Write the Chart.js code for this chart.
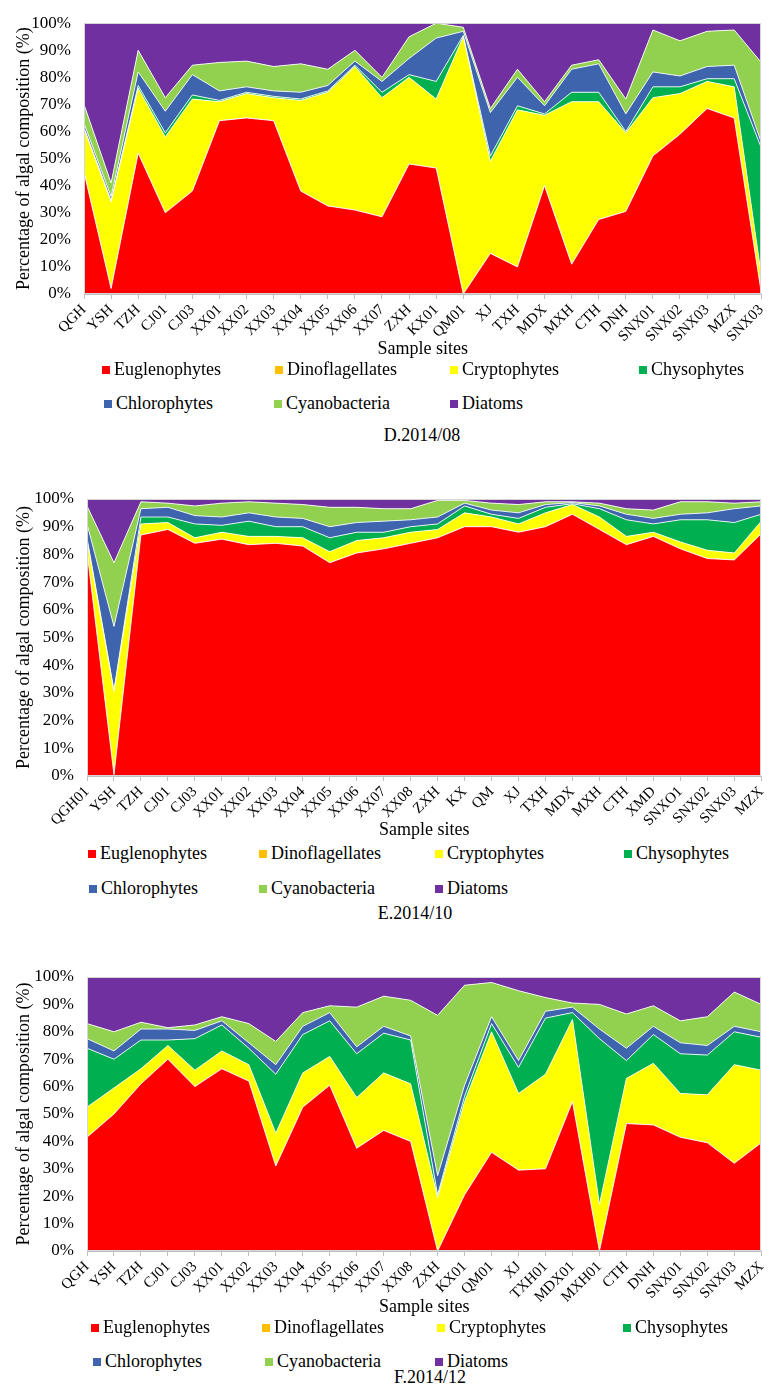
<!DOCTYPE html>
<html><head><meta charset="utf-8">
<script src="https://cdn.jsdelivr.net/npm/chart.js@4"></script>
<style>
body{margin:0;background:#fff;width:776px;height:1391px;position:relative;overflow:hidden;font-family:"Liberation Serif","Times New Roman",serif;color:#000}
canvas{position:absolute;left:0}
.lg{position:absolute;font-size:18px;line-height:20px;white-space:nowrap;transform:translateY(-50%)}
.lg i{display:inline-block;width:8px;height:8px;margin-right:4px;vertical-align:middle;position:relative;top:-1px}
.ttl{position:absolute;font-size:18px;transform:translate(-50%,-50%);white-space:nowrap}
</style></head><body>
<canvas id="cD"></canvas>
<canvas id="cE"></canvas>
<canvas id="cF"></canvas>
<script>
const seriesNames = ['Euglenophytes','Dinoflagellates','Cryptophytes','Chysophytes','Chlorophytes','Cyanobacteria','Diatoms'];
const seriesColors = ['#FF0000','#FFC000','#FFFF00','#00B050','#3D64AD','#92D050','#7030A0'];
const yTickLabels = ['0%','10%','20%','30%','40%','50%','60%','70%','80%','90%','100%'];

// ---- D.2014/08 ----
const catsD = ['QGH','YSH','TZH','CJ01','CJ03','XX01','XX02','XX03','XX04','XX05','XX06','XX07','ZXH','KX01','QM01','XJ','TXH','MDX','MXH','CTH','DNH','SNX01','SNX02','SNX03','MZX','SNX03'];
const D_euglenophytes  = [45,2,52,30,38,64,65,64,38,32.5,31,28.5,48,46.5,0,15,10,40,11,27.5,30.5,51,59,68.5,65,0.5];
const D_dinoflagellates= [0,0,0,0,0,0,0,0,0,0,0,0,0,0,0,0,0,0,0,0,0,0,0,0,0,0];
const D_cryptophytes   = [16,32,24,28,34,7,9,8.5,33.5,42,53,44,32,25.5,95,34,58,26,60,43.5,29,21.5,15,10,11.5,6.5];
const D_chysophytes    = [0.5,0.5,1,1.5,1.5,0.5,0.5,0.5,0.5,0.5,0.5,2,1,6.5,0.5,2,1.5,0.5,3.5,3.5,0.5,4,2.5,1,3,47];
const D_chlorophytes   = [1.5,1.5,5,8,7.5,3.5,2,2,2.5,2,1.5,4,6,16,1.5,16,10.5,3,8.5,10.5,6.5,5.5,4,4.5,5,2];
const D_cyanobacteria  = [7,5,8,5,3.5,10.5,9.5,9,10.5,6,4,1.5,8,5.5,1.5,1.5,3,1.5,1.5,1.5,5.5,15.5,13,13,13,29.5];
const D_diatoms        = [30,59,10,27.5,15.5,14.5,14,16,15,17,10,20,5,0,1.5,31.5,17,29,15.5,13.5,28,2.5,6.5,3,2.5,14.5];

// ---- E.2014/10 ----
const catsE = ['QGH01','YSH','TZH','CJ01','CJ03','XX01','XX02','XX03','XX04','XX05','XX06','XX07','XX08','ZXH','KX','QM','XJ','TXH','MDX','MXH','CTH','XMD','SNXO1','SNX02','SNX03','MZX'];
const E_euglenophytes  = [81,0.5,87,89,84,85.5,83.5,84,83,77,80.5,82,84,86,90,90,88,90,94.5,89,83.5,86.5,82,78.5,78,87.5];
const E_dinoflagellates= [0,0,0,0,0,0,0,0,0,0,0,0,0,0,0,0,0,0,0,0,0,0,0,0,0,0];
const E_cryptophytes   = [4,30,4,2.5,2,2.5,3,2.5,3,4,4.5,4,4,3,5,3.5,3,5,3.5,4.5,3,1.5,2.5,3,2.5,4.5];
const E_chysophytes    = [1,0.5,2.5,2,5,2.5,5.5,3.5,4,5,3,2,2,2,2.5,1,2,2,0.3,3,6,3,8,11,11,2.5];
const E_chlorophytes   = [5,23,3,3.5,3,3,3,3.5,3,4,3.5,4,2.5,2.5,1,1.5,2,1,0.4,1,2,2,2,2.5,5,3];
const E_cyanobacteria  = [6.5,23,2.5,1.5,3.5,5,4,5,5,7,5.5,4.5,4,6,1,2.5,3,1,0.3,1,2,3,4.5,4,2,1.5];
const E_diatoms        = [2.5,23,1,1.5,2.5,1.5,1,1.5,2,3,3,3.5,3.5,0.5,0.5,1.5,2,1,1,1.5,3.5,4,1,1,1.5,1];

// ---- F.2014/12 ----
const catsF = ['QGH','YSH','TZH','CJ01','CJ03','XX01','XX02','XX03','XX04','XX05','XX06','XX07','XX08','ZXH','KX01','QM01','XJ','TXH01','MDX01','MXH01','CTH','DNH','SNX01','SNX02','SNX03','MZX'];
const F_euglenophytes  = [41.5,50,61,70,60,66.5,62,31,52.5,60.5,37.5,44,40,0,20.5,36,29.5,30,54.5,0,46.5,46,41.5,39.5,32,39.5];
const F_dinoflagellates= [0,0,0,0,0,0,0,0,0,0,0,0,0,0,0,0,0,0,0,0,0,0,0,0,0,0];
const F_cryptophytes   = [11,9.5,5.5,5,6,6.5,6,12,12.5,10.5,18.5,21,21,19.5,34,44,28,34.5,30,17,16.5,22.5,16,17.5,36,26.5];
const F_chysophytes    = [21.5,10.5,10.5,2,11.5,9.5,6,21.5,14,13,16,14.5,16,1,2,3,9.5,20.5,2.5,60.5,6.5,10.5,14.5,14.5,12,12];
const F_chlorophytes   = [3.5,3,4,4,3,1.5,2,3.5,3,3,2.5,2.5,1.5,7,4,2.5,2.5,2.5,2,3.5,4.5,3,4,3.5,2,2];
const F_cyanobacteria  = [5.5,7,2.5,0.5,2,1.5,7,8.5,5,2.5,14.5,11,13,58.5,36.5,12.5,25.5,5,1.5,9,12.5,7.5,8,10.5,12.5,10];
const F_diatoms        = [17,20,16.5,18.5,17.5,14.5,17,23.5,13,10.5,11,7,8.5,14,3,2,5,7.5,9.5,10,13.5,10.5,16,14.5,5.5,10];

const FONT = '"Liberation Serif","Times New Roman",serif';

const borderPlugin = {
  id: 'plotBorder',
  afterDatasetsDraw(chart) {
    const {ctx, chartArea: a} = chart;
    ctx.save();
    ctx.strokeStyle = '#d6d6d6';
    ctx.lineWidth = 1;
    ctx.strokeRect(Math.round(a.left) + 0.5, Math.round(a.top) + 0.5, Math.round(a.right - a.left) - 1, Math.round(a.bottom - a.top) - 1);
    ctx.strokeStyle = '#bfbfbf';
    ctx.beginPath();
    ctx.moveTo(a.left, Math.round(a.bottom) + 0.5);
    ctx.lineTo(a.right, Math.round(a.bottom) + 0.5);
    ctx.stroke();
    ctx.restore();
  }
};

function buildChart(id, cats, series, g) {
  const cv = document.getElementById(id);
  cv.width = 776; cv.height = g.height;
  cv.style.top = g.canvasTop + 'px';
  cv.style.width = '776px'; cv.style.height = g.height + 'px';
  const canvasBottom = g.canvasTop + g.height;
  const datasets = series.map((vals, k) => ({
    label: seriesNames[k],
    data: vals,
    backgroundColor: seriesColors[k],
    borderColor: 'rgba(255,255,255,0.85)',
    borderWidth: 1,
    fill: k === 0 ? 'origin' : '-1',
    pointRadius: 0,
    tension: 0
  }));
  return new Chart(cv, {
    type: 'line',
    data: { labels: cats, datasets },
    plugins: [borderPlugin],
    options: {
      responsive: false,
      animation: false,
      devicePixelRatio: 1,
      layout: { padding: { top: g.plotTop - g.canvasTop, right: 776 - g.plotRight, left: 0, bottom: 0 } },
      plugins: { legend: { display: false }, tooltip: { enabled: false } },
      scales: {
        x: {
          type: 'category',
          offset: false,
          grid: { display: true, drawOnChartArea: false, drawTicks: true, tickLength: 5, color: '#bfbfbf' },
          border: { display: false },
          ticks: { autoSkip: false, maxRotation: 45, minRotation: 45, padding: 2, color: '#000', font: { family: FONT, size: 15 } },
          title: { display: true, text: 'Sample sites', color: '#000', font: { family: FONT, size: 18 }, padding: { top: 0, bottom: 2 } },
          afterFit(s) { s.height = canvasBottom - g.plotBottom; }
        },
        y: {
          stacked: true,
          min: 0, max: 100,
          grid: { display: false, drawTicks: false },
          border: { display: false },
          ticks: { stepSize: 10, padding: 13, color: '#000', font: { family: FONT, size: 17 },
                   callback: (v, i) => yTickLabels[i] },
          title: { display: true, text: 'Percentage of algal composition (%)', color: '#000', font: { family: FONT, size: 18 }, padding: { top: 13, bottom: 0 } },
          afterFit(s) { s.width = g.plotLeft; }
        }
      }
    }
  });
}

buildChart('cD', catsD, [D_euglenophytes, D_dinoflagellates, D_cryptophytes, D_chysophytes, D_chlorophytes, D_cyanobacteria, D_diatoms],
  { canvasTop: 0, height: 362, plotTop: 14, plotBottom: 294, plotLeft: 84, plotRight: 771 });
buildChart('cE', catsE, [E_euglenophytes, E_dinoflagellates, E_cryptophytes, E_chysophytes, E_chlorophytes, E_cyanobacteria, E_diatoms],
  { canvasTop: 470, height: 373, plotTop: 499, plotBottom: 776, plotLeft: 87, plotRight: 774 });
buildChart('cF', catsF, [F_euglenophytes, F_dinoflagellates, F_cryptophytes, F_chysophytes, F_chlorophytes, F_cyanobacteria, F_diatoms],
  { canvasTop: 950, height: 370, plotTop: 977, plotBottom: 1251, plotLeft: 87, plotRight: 767 });

// HTML legends and captions
const legendLayouts = [
  { rows: [369, 403], x: [[102, 275, 450, 639], [104, 274, 450]], title: 'D.2014/08', tx: 422, ty: 435 },
  { rows: [853, 888], x: [[88, 259, 435, 624], [89, 259, 435]], title: 'E.2014/10', tx: 415, ty: 913 },
  { rows: [1327, 1361], x: [[91, 262, 437, 623], [93, 265, 435]], title: 'F.2014/12', tx: 430, ty: 1377 }
];
legendLayouts.forEach(L => {
  let k = 0;
  L.x.forEach((row, r) => {
    row.forEach(x => {
      const d = document.createElement('div');
      d.className = 'lg';
      d.style.left = x + 'px';
      d.style.top = L.rows[r] + 'px';
      d.innerHTML = '<i style="background:' + seriesColors[k] + '"></i>' + seriesNames[k];
      document.body.appendChild(d);
      k++;
    });
  });
  const t = document.createElement('div');
  t.className = 'ttl';
  t.style.left = L.tx + 'px';
  t.style.top = L.ty + 'px';
  t.textContent = L.title;
  document.body.appendChild(t);
});
</script>
</body></html>
